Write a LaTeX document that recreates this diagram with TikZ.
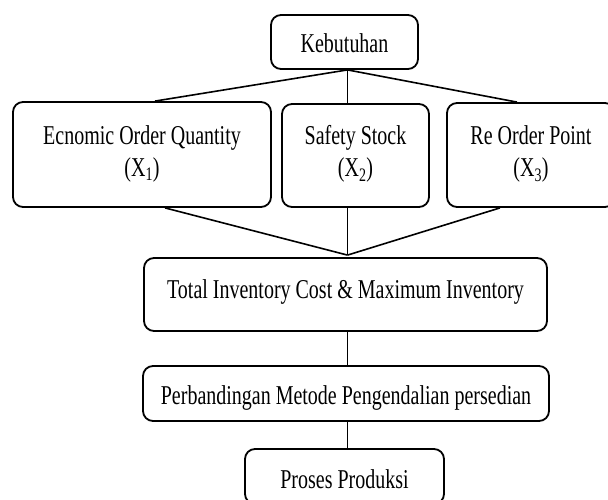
\documentclass[tikz,border=0pt]{standalone}
\usepackage{fontspec}
\setmainfont{Liberation Serif}
\usepackage{graphicx}
\newcommand\bxtxt[2]{\raisebox{#1pt}{\scalebox{0.735}[1]{#2}}}
\newcommand\bxtwo[3]{\raisebox{#1pt}{\scalebox{0.735}[1]{\begin{tabular}[b]{@{}c@{}}#2\\#3\end{tabular}}}}
\begin{document}
\begin{tikzpicture}[x=1pt,y=-1pt,
  box/.style={draw=black, line width=1.8pt, rounded corners=10pt, inner sep=0pt,
    text height=0pt, text depth=0pt, font=\fontsize{27.2}{32}\selectfont},
  conn/.style={draw=black, line width=1.6pt}]
\useasboundingbox (0,0) rectangle (608,500);
\clip (0,0) rectangle (608,500);
\node[box, minimum width=147pt, minimum height=54pt] (keb) at (344.5,42) {\bxtxt{-11}{Kebutuhan}};
\node[box, minimum width=258pt, minimum height=105pt] (eoq) at (142,154.5) {\bxtwo{-22.5}{Ecnomic Order Quantity}{(X\textsubscript{1})}};
\node[box, minimum width=147pt, minimum height=103pt] (ss) at (355.5,155.5) {\bxtwo{-21.5}{Safety Stock}{(X\textsubscript{2})}};
\node[box, minimum width=168pt, minimum height=104pt] (rop) at (531,155) {\bxtwo{-22}{Re Order Point}{(X\textsubscript{3})}};
\node[box, minimum width=403pt, minimum height=73pt] (tot) at (345.5,294.5) {\bxtxt{-3.5}{Total Inventory Cost \& Maximum Inventory}};
\node[box, minimum width=406pt, minimum height=55pt] (perb) at (346,393.5) {\bxtxt{-10.5}{Perbandingan Metode Pengendalian persedian}};
\node[box, minimum width=199pt, minimum height=55pt] (pro) at (344.5,476.5) {\bxtxt{-11.5}{Proses Produksi}};
\coordinate (ax) at (347.5,0);
\coordinate (e1) at (155,0);
\coordinate (e2) at (165,0);
\coordinate (r1) at (517,0);
\coordinate (r2) at (500,0);
\draw[conn] (keb.south -| ax) -- (eoq.north -| e1);
\draw[conn] (keb.south -| ax) -- (ss.north -| ax);
\draw[conn] (keb.south -| ax) -- (rop.north -| r1);
\draw[conn] (eoq.south -| e2) -- ([yshift=2pt]tot.north -| ax);
\draw[conn] (ss.south -| ax) -- ([yshift=2pt]tot.north -| ax);
\draw[conn] (rop.south -| r2) -- ([yshift=2pt]tot.north -| ax);
\draw[conn] (tot.south -| ax) -- (perb.north -| ax);
\draw[conn] (perb.south -| ax) -- (pro.north -| ax);
\end{tikzpicture}
\end{document}
